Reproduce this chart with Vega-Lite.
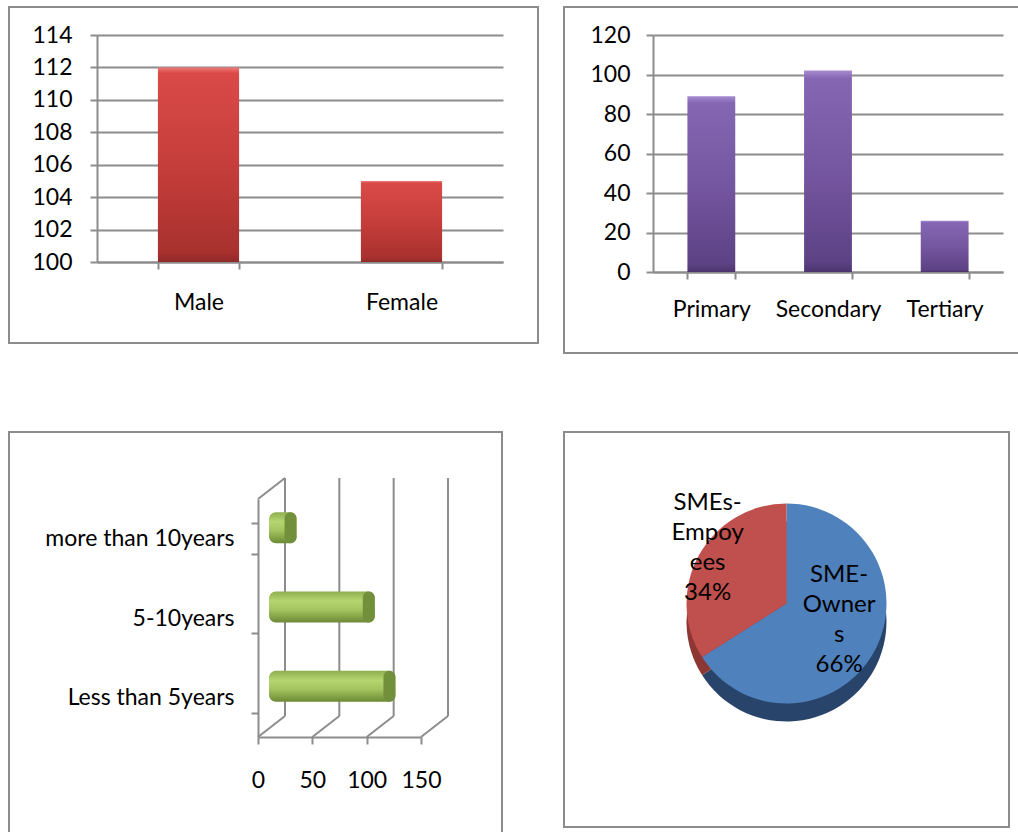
{
  "$schema": "https://vega.github.io/schema/vega-lite/v6.json",
  "background": "white",
  "padding": {"left": 8, "top": 6, "right": 0, "bottom": 0},
  "columns": 2,
  "spacing": {"column": 24, "row": 66},
  "config": {
    "view": {"stroke": "#8c8c8c", "strokeWidth": 2},
    "axis": {
      "labelFont": "Lato", "labelFontSize": 23, "labelColor": "#000000",
      "domainColor": "#8c8c8c", "domainWidth": 2,
      "tickColor": "#8c8c8c", "tickWidth": 2, "tickSize": 7,
      "gridColor": "#8c8c8c", "gridWidth": 2,
      "title": null, "labelAngle": 0, "labelLimit": 300
    },
    "text": {"font": "Lato"}
  },
  "concat": [
    {
      "width": 529, "height": 336,
      "data": {"values": [
        {"gender": "Male", "respondents": 112},
        {"gender": "Female", "respondents": 105}
      ]},
      "mark": {"type": "bar", "color": {"gradient": "linear", "x1": 0, "y1": 0, "x2": 0, "y2": 1,
        "stops": [{"offset": 0, "color": "#f07a76"}, {"offset": 0.03, "color": "#d94a47"}, {"offset": 0.5, "color": "#c63e3b"}, {"offset": 0.95, "color": "#a8312e"}, {"offset": 1, "color": "#8e2a28"}]}},
      "encoding": {
        "x": {"field": "gender", "type": "nominal", "sort": null,
          "scale": {"range": [88, 494], "paddingInner": 0.6, "paddingOuter": 0.3},
          "axis": {"offset": -81, "tickBand": "extent", "labelPadding": 22, "grid": false}},
        "y": {"field": "respondents", "type": "quantitative",
          "scale": {"domain": [100, 114], "range": [255, 28], "zero": false, "nice": false},
          "axis": {"offset": -88, "values": [100, 102, 104, 106, 108, 110, 112, 114], "grid": true, "labelPadding": 18}},
        "y2": {"datum": 100}
      }
    },
    {
      "width": 455, "height": 346,
      "data": {"values": [
        {"education": "Primary", "respondents": 89},
        {"education": "Secondary", "respondents": 102},
        {"education": "Tertiary", "respondents": 26}
      ]},
      "mark": {"type": "bar", "color": {"gradient": "linear", "x1": 0, "y1": 0, "x2": 0, "y2": 1,
        "stops": [{"offset": 0, "color": "#a68bd0"}, {"offset": 0.04, "color": "#8466b3"}, {"offset": 0.5, "color": "#7556a0"}, {"offset": 0.95, "color": "#5d4285"}, {"offset": 1, "color": "#4c356e"}]}},
      "encoding": {
        "x": {"field": "education", "type": "nominal", "sort": null,
          "scale": {"range": [89, 439], "paddingInner": 0.59, "paddingOuter": 0.295},
          "axis": {"offset": -81, "tickBand": "extent", "labelPadding": 19, "grid": false}},
        "y": {"field": "respondents", "type": "quantitative",
          "scale": {"domain": [0, 120], "range": [265, 28], "nice": false},
          "axis": {"offset": -89, "values": [0, 20, 40, 60, 80, 100, 120], "grid": true, "labelPadding": 16}}
      }
    },
    {
      "width": 493, "height": 402,
      "layer": [
        {
          "data": {"values": [{"t": 0}, {"t": 50}, {"t": 100}, {"t": 150}]},
          "mark": {"type": "rule", "color": "#8c8c8c", "strokeWidth": 2, "xOffset": 27, "x2Offset": 27, "yOffset": -21, "y2Offset": -21},
          "encoding": {
            "x": {"field": "t", "type": "quantitative", "scale": {"domain": [0, 150], "range": [249, 412], "nice": false}},
            "y": {"datum": 0, "type": "quantitative", "scale": {"domain": [0, 1], "range": [305, 67]}, "axis": null},
            "y2": {"datum": 1}
          }
        },
        {
          "data": {"values": [{"t": 0}, {"t": 50}, {"t": 100}, {"t": 150}]},
          "mark": {"type": "rule", "color": "#8c8c8c", "strokeWidth": 2, "x2Offset": 27, "y2Offset": -21},
          "encoding": {
            "x": {"field": "t", "type": "quantitative"},
            "x2": {"field": "t"},
            "y": {"datum": 0, "type": "quantitative", "scale": {"domain": [0, 1], "range": [305, 67]}, "axis": null},
            "y2": {"datum": 0}
          }
        },
        {
          "data": {"values": [{"t": 0}]},
          "mark": {"type": "rule", "color": "#8c8c8c", "strokeWidth": 2, "x2Offset": 27, "y2Offset": -21},
          "encoding": {
            "x": {"field": "t", "type": "quantitative"},
            "x2": {"field": "t"},
            "y": {"datum": 1, "type": "quantitative", "scale": {"domain": [0, 1], "range": [305, 67]}, "axis": null},
            "y2": {"datum": 1}
          }
        },
        {
          "data": {"name": "experience", "values": [
            {"experience": "more than 10years", "respondents": 18},
            {"experience": "5-10years", "respondents": 90},
            {"experience": "Less than 5years", "respondents": 109}
          ]},
          "mark": {"type": "bar", "cornerRadius": 7, "xOffset": 19, "x2Offset": 11, "yOffset": -11,
            "color": {"gradient": "linear", "x1": 0, "y1": 0, "x2": 0, "y2": 1,
              "stops": [{"offset": 0, "color": "#8fae4f"}, {"offset": 0.3, "color": "#b4d56f"}, {"offset": 0.6, "color": "#a2c35d"}, {"offset": 1, "color": "#6c8935"}]}},
          "encoding": {
            "y": {"field": "experience", "type": "nominal", "sort": null,
              "scale": {"range": [67, 305], "paddingInner": 0.61, "paddingOuter": 0.305},
              "axis": {"offset": -249, "tickBand": "extent", "labelPadding": 17}},
            "x": {"field": "respondents", "type": "quantitative", "stack": null,
              "scale": {"domain": [0, 150], "range": [249, 412], "nice": false},
              "axis": {"offset": -97, "values": [0, 50, 100, 150], "labelPadding": 25, "grid": false, "labelFlush": false, "labelOverlap": false}},
            "x2": {"datum": 0}
          }
        },
        {
          "data": {"name": "experience"},
          "mark": {"type": "tick", "orient": "vertical", "thickness": 12, "size": 31, "cornerRadius": 6, "xOffset": 13, "yOffset": -11, "color": "#728f3b", "opacity": 1},
          "encoding": {
            "y": {"field": "experience", "type": "nominal", "sort": null,
              "scale": {"range": [67, 305], "paddingInner": 0.61, "paddingOuter": 0.305}, "axis": null},
            "x": {"field": "respondents", "type": "quantitative"}
          }
        }
      ],
      "resolve": {"scale": {"y": "independent"}, "axis": {"y": "independent"}}
    },
    {
      "width": 445, "height": 395,
      "view": {"stroke": "#8c8c8c", "strokeWidth": 2},
      "data": {"values": [
        {"segment": "SME-Owners", "share": 66, "label": ["SME-", "Owner", "s", "66%"]},
        {"segment": "SMEs-Empoyees", "share": 34, "label": ["SMEs-", "Empoy", "ees", "34%"]}
      ]},
      "layer": [
        {
          "mark": {"type": "arc", "outerRadius": 100, "yOffset": -8},
          "encoding": {
            "theta": {"field": "share", "type": "quantitative", "stack": true},
            "detail": {"field": "segment"},
            "fill": {"field": "segment", "type": "nominal", "scale": {"domain": ["SME-Owners", "SMEs-Empoyees"], "range": ["#28446a", "#8d3735"]}, "legend": null}
          }
        },
        {
          "mark": {"type": "arc", "outerRadius": 100, "yOffset": -26},
          "encoding": {
            "theta": {"field": "share", "type": "quantitative", "stack": true},
            "detail": {"field": "segment"},
            "color": {"field": "segment", "type": "nominal", "scale": {"domain": ["SME-Owners", "SMEs-Empoyees"], "range": ["#4f81bd", "#c0504d"]}, "legend": null}
          }
        },
        {
          "mark": {"type": "text", "fontSize": 24, "lineHeight": 30, "yOffset": -26, "dy": -57, "color": "#000000", "align": "center", "baseline": "middle"},
          "encoding": {
            "theta": {"field": "share", "type": "quantitative", "stack": true},
            "detail": {"field": "segment"},
            "radius": {"field": "share", "type": "quantitative", "scale": {"type": "linear", "domain": [34, 66], "range": [90, 60], "zero": false}},
            "text": {"field": "label", "type": "nominal"}
          }
        }
      ]
    }
  ]
}
